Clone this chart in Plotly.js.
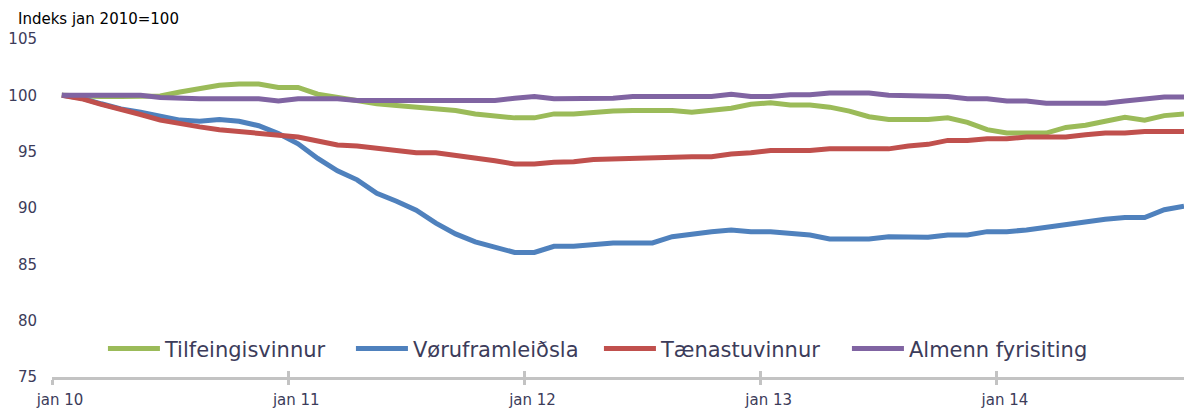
<!DOCTYPE html>
<html>
<head>
<meta charset="utf-8">
<script src="https://cdn.plot.ly/plotly-3.0.1.min.js"></script>
<style>html,body{margin:0;padding:0;background:#fff;}#chart{width:1184px;height:412px;}</style>
</head>
<body>
<div id="chart"></div>
<script>
// Monthly index, jan 2010 = 100 (jan 2010 .. okt 2014)
const monthNames = ['jan','feb','mar','apr','mai','jun','jul','aug','sep','okt','nov','des'];
const years = ['10','11','12','13','14'];
const months = [];
years.forEach(y => monthNames.forEach(m => months.push(m + ' ' + y)));
months.length = 58;

const seriesNames = ['Tilfeingisvinnur', 'Vøruframleiðsla', 'Tænastuvinnur', 'Almenn fyrisiting'];

const tilfeingisvinnur = [
  100, 99.9, 99.9, 99.9, 99.9, 99.95, 100.3, 100.6, 100.9, 101.0, 101.0, 100.7,
  100.7, 100.1, 99.8, 99.45, 99.25, 99.1, 98.95, 98.8, 98.65, 98.35, 98.15, 98.0,
  98.0, 98.35, 98.35, 98.5, 98.6, 98.65, 98.65, 98.65, 98.5, 98.65, 98.85, 99.2,
  99.35, 99.15, 99.15, 98.95, 98.6, 98.1, 97.85, 97.85, 97.85, 98.0, 97.6, 96.95,
  96.65, 96.65, 96.65, 97.15, 97.35, 97.7, 98.05, 97.8, 98.2, 98.35
];
const voruframleidsla = [
  100, 99.75, 99.25, 98.8, 98.5, 98.1, 97.8, 97.7, 97.85, 97.7, 97.3, 96.6,
  95.7, 94.4, 93.3, 92.5, 91.3, 90.6, 89.8, 88.65, 87.7, 87.0, 86.5, 86.05,
  86.05, 86.6, 86.6, 86.8, 86.9, 86.9, 86.9, 87.45, 87.7, 87.9, 88.05, 87.9,
  87.9, 87.75, 87.6, 87.25, 87.25, 87.25, 87.45, 87.45, 87.4, 87.6, 87.6, 87.9,
  87.9, 88.05, 88.3, 88.6, 88.8, 89.0, 89.15, 89.15, 89.85, 90.15
];
const taenastuvinnur = [
  100, 99.7, 99.2, 98.8, 98.3, 97.8, 97.45, 97.2, 96.95, 96.8, 96.65, 96.45,
  96.3, 95.95, 95.6, 95.5, 95.3, 95.1, 94.9, 94.9, 94.7, 94.5, 94.2, 93.9,
  93.9, 94.05, 94.1, 94.3, 94.35, 94.4, 94.55, 94.55, 94.55, 94.55, 94.8, 94.9,
  95.1, 95.1, 95.1, 95.25, 95.25, 95.25, 95.25, 95.5, 95.65, 96.0, 96.0, 96.15,
  96.15, 96.3, 96.3, 96.3, 96.5, 96.65, 96.65, 96.8, 96.8, 96.8
];
const almennFyrisiting = [
  100, 100, 100, 100, 100, 99.8, 99.7, 99.7, 99.7, 99.7, 99.7, 99.5,
  99.7, 99.7, 99.7, 99.55, 99.55, 99.55, 99.55, 99.55, 99.55, 99.55, 99.55, 99.75,
  99.9, 99.7, 99.7, 99.7, 99.75, 99.9, 99.9, 99.9, 99.9, 99.9, 100.1, 99.9,
  99.9, 100.05, 100.05, 100.2, 100.2, 100.2, 100.0, 100.0, 100.0, 99.9, 99.7, 99.7,
  99.5, 99.5, 99.3, 99.3, 99.3, 99.3, 99.5, 99.7, 99.85, 99.85
];

const xTickLabels = ['jan 10', 'jan 11', 'jan 12', 'jan 13', 'jan 14'];
const yTicks = [75, 80, 85, 90, 95, 100, 105];
const colors = ['#9BBB59', '#4F81BD', '#C0504D', '#8064A2'];

const xIdx = months.map((_, i) => i);
const xTickVals = xTickLabels.map(l => months.indexOf(l) - 0.5);
const allSeries = [tilfeingisvinnur, voruframleidsla, taenastuvinnur, almennFyrisiting];

const traces = allSeries.map((vals, k) => ({
  type: 'scatter', mode: 'lines', name: seriesNames[k],
  x: xIdx, y: vals, text: months,
  line: {color: colors[k], width: 5},
  cliponaxis: true
}));

const FONT = 'DejaVu Sans, Verdana, sans-serif';
const layout = {
  width: 1184, height: 412,
  margin: {l: 52, r: 0, t: 39, b: 35},
  paper_bgcolor: '#fff', plot_bgcolor: '#fff',
  showlegend: true,
  legend: {
    orientation: 'h', x: 0.045, xanchor: 'left', y: 0.083, yanchor: 'middle',
    font: {family: FONT, size: 21, color: '#3c3c5a'},
    itemwidth: 52, entrywidth: 181, entrywidthmode: 'pixels',
    bgcolor: 'rgba(0,0,0,0)', borderwidth: 0, tracegroupgap: 0
  },
  xaxis: {
    range: [-0.5, 57.0], showgrid: false, zeroline: false,
    showline: true, linecolor: '#c3c3c3', linewidth: 3,
    tickmode: 'array', tickvals: xTickVals, ticktext: xTickLabels,
    ticks: 'outside', ticklen: 5, tickwidth: 3, tickcolor: '#c3c3c3',
    ticklabelshift: 8, ticklabelstandoff: 2,
    tickfont: {family: FONT, size: 15, color: '#3c3c5a'}
  },
  xaxis2: {
    overlaying: 'x', matches: 'x', anchor: 'y', side: 'bottom',
    range: [-0.5, 57.0], showgrid: false, zeroline: false, showline: false,
    tickmode: 'array', tickvals: xTickVals, showticklabels: false,
    ticks: 'inside', ticklen: 6, tickwidth: 3, tickcolor: '#c3c3c3'
  },
  yaxis: {
    range: [75, 105], showgrid: false, zeroline: false, showline: false,
    tickmode: 'array', tickvals: yTicks, ticks: '',
    ticklabelstandoff: 14,
    tickfont: {family: FONT, size: 15, color: '#3c3c5a'}
  },
  annotations: [{
    text: 'Indeks jan 2010=100', xref: 'paper', yref: 'paper',
    x: -0.032, y: 1.026, xanchor: 'left', yanchor: 'bottom', showarrow: false,
    font: {family: FONT, size: 15, color: '#000'}
  }]
};
traces.push({type: 'scatter', mode: 'lines', x: [0], y: [null], xaxis: 'x2', yaxis: 'y', showlegend: false, hoverinfo: 'skip'});

Plotly.newPlot('chart', traces, layout, {staticPlot: true, displayModeBar: false});
</script>
</body>
</html>
